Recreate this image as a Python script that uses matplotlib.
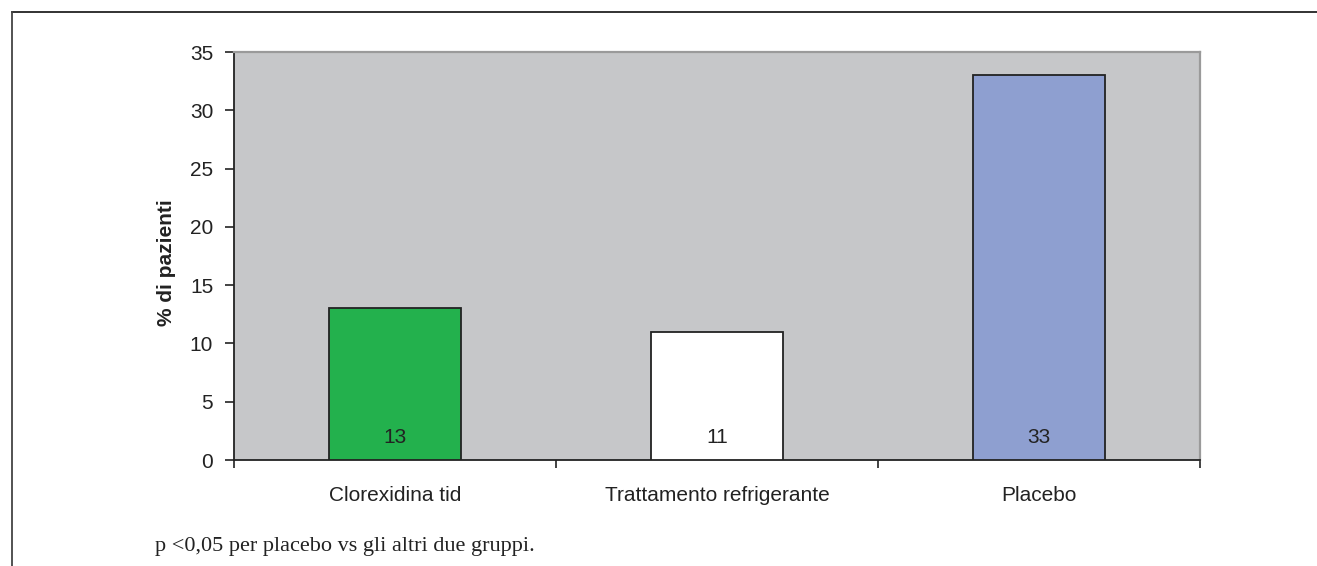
import matplotlib
matplotlib.use("Agg")
import matplotlib.pyplot as plt
from matplotlib.lines import Line2D

categories = ["Clorexidina tid", "Trattamento refrigerante", "Placebo"]
values = [13, 11, 33]
bar_colors = ["#23b14d", "#ffffff", "#8e9fd0"]
yticks = [0, 5, 10, 15, 20, 25, 30, 35]
ylabel = "% di pazienti"
footnote = "p <0,05 per placebo vs gli altri due gruppi."

plt.rcParams['font.family'] = ['Liberation Sans', 'DejaVu Sans']

W, H = 1317, 566
fig = plt.figure(figsize=(W / 100, H / 100), dpi=100)

# axes placement in pixels
x0, x1 = 234, 1200
y_top, y_bot = 52, 460
ax = fig.add_axes([x0 / W, 1 - y_bot / H, (x1 - x0) / W, (y_bot - y_top) / H])
ax.set_facecolor("#c6c7c9")

pos = list(range(len(categories)))
ax.bar(pos, values, width=0.41, color=bar_colors, edgecolor="#222222", linewidth=1.3, zorder=3)
for p, v in zip(pos, values):
    ax.text(p, 1.9, str(v), ha="center", va="center", fontsize=15, color="#222222", zorder=4)

ax.set_xlim(-0.5, len(categories) - 0.5)
ax.set_ylim(0, 35)
ax.set_yticks(yticks)
ax.set_yticklabels([str(t) for t in yticks], fontsize=15, color="#222222")
ax.set_xticks(pos)
ax.set_xticklabels(categories, fontsize=15, color="#222222")
ax.tick_params(axis="x", which="major", length=0, pad=19)
ax.tick_params(axis="y", length=6.5, width=1.2, color="#222222", pad=8.5, direction="out")
# category boundary ticks
ax.set_xticks([-0.5, 0.5, 1.5, 2.5], minor=True)
ax.tick_params(axis="x", which="minor", length=5.5, width=1.2, color="#222222", direction="out")

for s in ["left", "bottom"]:
    ax.spines[s].set_color("#222222")
    ax.spines[s].set_linewidth(1.3)
for s in ["top", "right"]:
    ax.spines[s].set_color("#9a9a9a")
    ax.spines[s].set_linewidth(1.6)

ax.set_ylabel(ylabel, fontsize=15, fontweight="bold", color="#222222")
ax.yaxis.set_label_coords(-0.060, 0.483)

# outer frame (top and left lines)
fig.add_artist(Line2D([12 / W, 1.0], [1 - 12 / H, 1 - 12 / H], color="#222222", lw=1.3))
fig.add_artist(Line2D([12 / W, 12 / W], [0, 1 - 12 / H], color="#444444", lw=1.3))

fig.text(155 / W, 1 - 546 / H, footnote, fontsize=16, family=["Liberation Serif", "DejaVu Serif"],
         color="#222222", ha="left", va="center")

fig.savefig("out.png", dpi=100)
